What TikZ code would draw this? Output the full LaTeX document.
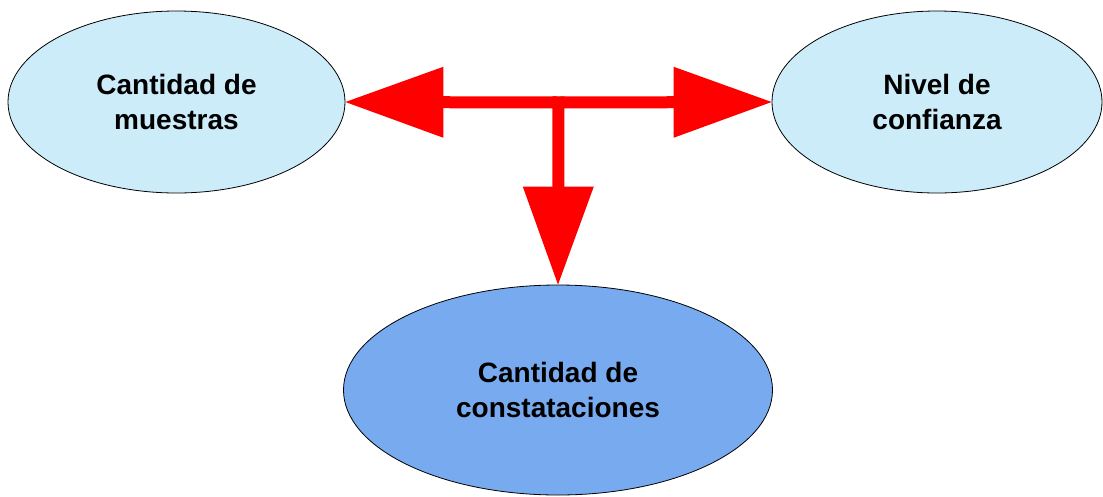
\documentclass[tikz,border=0pt]{standalone}
\usepackage{fontspec}
\setmainfont{Liberation Sans}
\usetikzlibrary{shapes.geometric,arrows.meta}
\definecolor{lightblob}{RGB}{205,236,250}
\definecolor{darkblob}{RGB}{120,170,240}
\definecolor{arrowred}{RGB}{255,0,0}
\tikzset{
  blob/.style={ellipse, draw=black, line width=0.8pt, inner sep=0pt, align=center,
    font=\fontsize{28}{35}\selectfont\bfseries},
  redarrow/.style={draw=arrowred, line width=12pt, line cap=rect,
    -{Triangle[length=98pt,width=71pt,line width=0pt]}, arrowred}
}
\begin{document}
\begin{tikzpicture}[x=1pt,y=-1pt]
\useasboundingbox (0,0) rectangle (1103,496);
\node[blob, fill=lightblob, minimum width=337pt, minimum height=182pt] (muestras) at (176.5,102) {Cantidad de\\muestras};
\node[blob, fill=lightblob, minimum width=330pt, minimum height=182pt] (confianza) at (937,102) {Nivel de\\confianza};
\node[blob, fill=darkblob, minimum width=429pt, minimum height=210pt] (constat) at (558,390) {Cantidad de\\constataciones};
\coordinate (j) at (558.5,102.5);
\draw[redarrow] (j) -- (muestras.east);
\draw[redarrow] (j) -- (confianza.west);
\draw[redarrow] (j) -- (constat.north);
\end{tikzpicture}
\end{document}
